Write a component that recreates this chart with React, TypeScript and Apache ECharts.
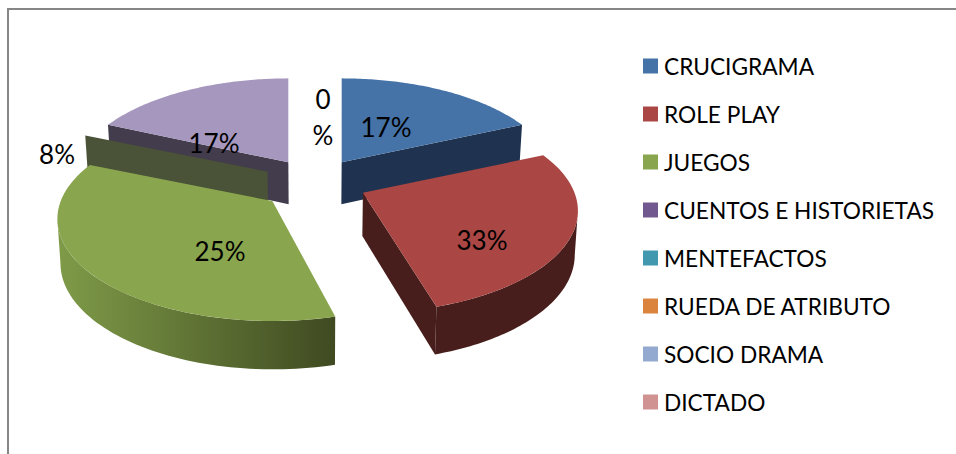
import React, { useEffect, useRef } from "react";
import * as echarts from "echarts";

// Data
const categories = ["CRUCIGRAMA", "ROLE PLAY", "JUEGOS", "CUENTOS E HISTORIETAS", "MENTEFACTOS", "RUEDA DE ATRIBUTO", "SOCIO DRAMA", "DICTADO"];
const percentLabels = ["17%", "33%", "25%", "8%", "", "", "17%", "0\n%"];
// Angles as actually drawn in the picture (degrees, clockwise from the top)
const sliceStartDeg = [0, 57, 163, 302, 360, 360, 303, 360];
const sliceSweepDeg = [57, 103, 139, 0, 0, 0, 57, 0];

// Styles
const legendColors = ["#4572A7", "#AA4643", "#89A54E", "#71588F", "#4198AF", "#DB843D", "#93A9CF", "#D19392"];
const topColors = ["#4572A7", "#AA4643", "#89A54E", "#4A5238", "#4198AF", "#DB843D", "#A597BD", "#D19392"];
const wallColors = ["#1F3350", "#471E1B", "#5E7434", "#4A5238", "#20505E", "#7A4A20", "#423C4D", "#6E4E4D"];
const drawOrder = [2, 4, 5, 3, 1, 1, 1, 1];
const explode = [0.26, 0.235, 0.25, 0.26, 0, 0, 0.26, 0];
const labelCenters: number[][] = [[386, 127], [482, 240], [220, 251], [57, 154], [0, 0], [0, 0], [214, 143], [323, 117]];

// Pie layout
const CX = 315, CY = 181, RX = 215, RY = 102, APEX_DROP = 18;
const rad = (d: number) => (d * Math.PI) / 180;
const rim = (t: number) => [RX * Math.sin(rad(t)), APEX_DROP - RY * Math.cos(rad(t))];
const lower = (p: number[]) => [p[0] + (CX - p[0]) * 0.012, p[1] + 42 + (p[1] - 163) * 0.04];

function makeItem(index: number) {
  return (_params: any, api: any) => {
    const start = api.value(0) as number;
    const sweep = api.value(1) as number;
    const children: any[] = [];
    const label = percentLabels[index];
    const bis = start + sweep / 2;
    const off = rim(bis);
    const ax = CX + off[0] * explode[index];
    const ay = CY + off[1] * explode[index];
    const apex = [ax, ay];
    const at = (t: number) => { const p = rim(t); return [ax + p[0], ay + p[1]]; };
    const hasArea = sweep > 0;
    const isSliver = index === 3;
    if (hasArea || isSliver) {
      const pts: number[][] = [];
      for (let i = 0; i <= 80; i++) pts.push(at(start + (sweep * i) / 80));
      const first = at(start);
      const last = at(start + sweep);
      const wall = (a: number[], b: number[], fill: any) => ({
        type: "polygon", silent: true,
        shape: { points: [a, b, lower(b), lower(a)] },
        style: { fill },
      });
      // radial walls facing the viewer
      const frontEnd = last[1] < ay && last[0] > ax;
      const frontStart = first[1] < ay && first[0] < ax && sweep === 0;
      const frontLeft = index === 6;
      const frontLower = last[1] > ay && last[0] > ax && first[0] > ax;
      if (frontEnd) children.push(wall(apex, last, wallColors[index]));
      if (frontStart) children.push(wall(apex, first, wallColors[index]));
      if (frontLeft) children.push(wall(apex, first, wallColors[index]));
      if (frontLower) children.push(wall(apex, last, wallColors[index]));
      // outer curved wall
      const a0 = Math.max(start, 90), a1 = Math.min(start + sweep, 270);
      if (a1 > a0) {
        const up: number[][] = [];
        for (let i = 0; i <= 60; i++) up.push(at(a0 + ((a1 - a0) * i) / 60));
        const down = up.map(lower).reverse();
        const fill = index === 2
          ? { type: "linear", x: 0, y: 0, x2: 1, y2: 0, colorStops: [{ offset: 0, color: "#7F9B48" }, { offset: 1, color: "#3F4A21" }] }
          : wallColors[index];
        children.push({ type: "polygon", silent: true, shape: { points: up.concat(down) }, style: { fill } });
      }
      if (hasArea) {
        children.push({
          type: "polygon", silent: true,
          shape: { points: [apex].concat(pts) },
          style: { fill: topColors[index] },
        });
      }
    }
    if (label) {
      const c = labelCenters[index];
      children.push({
        type: "text", silent: true, x: c[0], y: c[1], z2: 50,
        style: { text: label, fill: "#000000", font: "26px Lato", align: "center", verticalAlign: "middle", lineHeight: 36 },
      });
    }
    return { type: "group", children };
  };
}

export default function App() {
  const ref = useRef<HTMLDivElement>(null);
  useEffect(() => {
    document.body.style.margin = "0";
    const chart = echarts.init(ref.current!, undefined, { renderer: "svg" });
    chart.setOption({
      animation: false,
      backgroundColor: "#ffffff",
      legend: {
        orient: "vertical",
        left: 638,
        top: 48,
        icon: "rect",
        itemWidth: 15,
        itemHeight: 15,
        itemGap: 22,
        selectedMode: false,
        data: categories,
        textStyle: { fontFamily: "Lato", fontSize: 22.7, color: "#000000", padding: [0, 0, 0, 1], lineHeight: 26 },
      },
      graphic: [
        { type: "line", silent: true, shape: { x1: 8, y1: 9, x2: 956, y2: 9 }, style: { stroke: "#868686", lineWidth: 2 } },
        { type: "line", silent: true, shape: { x1: 8, y1: 8, x2: 8, y2: 454 }, style: { stroke: "#868686", lineWidth: 2 } },
      ],
      series: categories.map((name, i) => ({
        type: "custom",
        name,
        coordinateSystem: "none",
        z: drawOrder[i],
        itemStyle: { color: legendColors[i] },
        renderItem: makeItem(i),
        data: [[sliceStartDeg[i], sliceSweepDeg[i]]],
      })),
    });
    return () => chart.dispose();
  }, []);
  return <div ref={ref} style={{ position: "absolute", left: 0, top: 0, width: 956, height: 454 }} />;
}
